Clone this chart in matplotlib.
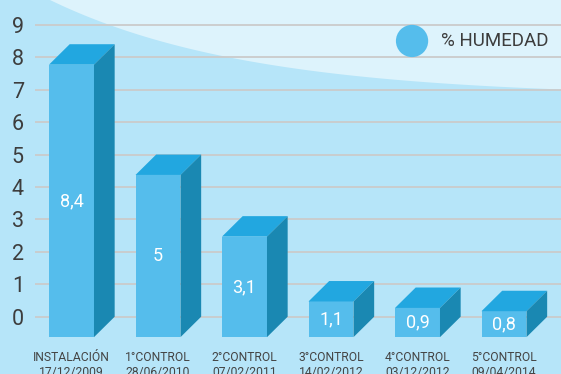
import numpy as np
import matplotlib.pyplot as plt
from matplotlib.patches import Polygon

# humidity readings per inspection
categories = ["INSTALACIÓN", "1°CONTROL", "2°CONTROL", "3°CONTROL", "4°CONTROL", "5°CONTROL"]
dates = ["17/12/2009", "28/06/2010", "07/02/2011", "14/02/2012", "03/12/2012", "09/04/2014"]
humedad = [8.4, 5.0, 3.1, 1.1, 0.9, 0.8]
value_labels = ["8,4", "5", "3,1", "1,1", "0,9", "0,8"]
yticks = list(range(0, 10))

plt.rcParams['font.family'] = ['Roboto', 'DejaVu Sans']

W, H = 561, 374
fig = plt.figure(figsize=(W / 100, H / 100), dpi=100)
fig.patch.set_facecolor('#b6e5f9')

# pale swoosh across the top right
xs = np.linspace(50, W, 80)
ys = 97 * (1 - np.exp(-(xs - 50) / 200))
pts = [(x / W, 1 - y / H) for x, y in zip(xs, ys)] + [(1, 1), (50 / W, 1)]
fig.patches.append(Polygon(pts, closed=True, transform=fig.transFigure,
                           facecolor='#ddf3fc', edgecolor='none', zorder=0))

ax = fig.add_axes([35 / W, 0, 1 - 35 / W, 1])
ax.set_zorder(2)
ax.set_facecolor('none')
ax.set_xlim(-0.422, 5.659)
ax.set_ylim(-1.766, 9.763)
for s in ax.spines.values():
  s.set_visible(False)
ax.set_xticks([])
ax.set_yticks(yticks)
ax.set_yticklabels([str(t) for t in yticks], fontsize=15.5, color='#3d3d3d')
ax.tick_params(axis='y', length=0, pad=8)
ax.yaxis.grid(True, color='#cbcbcb', linewidth=1.3)
ax.set_axisbelow(True)

front = '#55bdec'
top = '#22a7e0'
side = '#1a88b2'
w = 0.52   # bar width
dx = 0.239 # depth offset in x
dy = 0.63  # depth offset in y
base = -dy

x = np.arange(len(humedad))
ax.bar(x, humedad, bottom=base, width=w, color=front, zorder=3)
for xi, v in zip(x, humedad):
  l, r = xi - w / 2, xi + w / 2
  t = base + v
  ax.add_patch(Polygon([(l, t), (r, t), (r + dx, t + dy), (l + dx, t + dy)],
                       closed=True, facecolor=top, edgecolor='none', zorder=3))
  ax.add_patch(Polygon([(r, base), (r + dx, base + dy), (r + dx, t + dy), (r, t)],
                       closed=True, facecolor=side, edgecolor='none', zorder=3))

for xi, v, lab in zip(x, humedad, value_labels):
  ax.text(xi, base + v / 2, lab, ha='center', va='center', fontsize=13,
          color='white', zorder=4)

for xi, c, d in zip(x, categories, dates):
  ax.text(xi, -1.356, c, ha='center', va='baseline', fontsize=8.7, color='#444444')
  ax.text(xi, -1.83, d, ha='center', va='baseline', fontsize=8.7, color='#444444')

# legend
ax.scatter([3.937], [8.5], s=540, color=front, edgecolors='none', zorder=4)
ax.text(4.27, 8.5, "% HUMEDAD", ha='left', va='center', fontsize=13.5, color='#3d3d3d')

fig.savefig('out.png', dpi=100, facecolor=fig.get_facecolor())
